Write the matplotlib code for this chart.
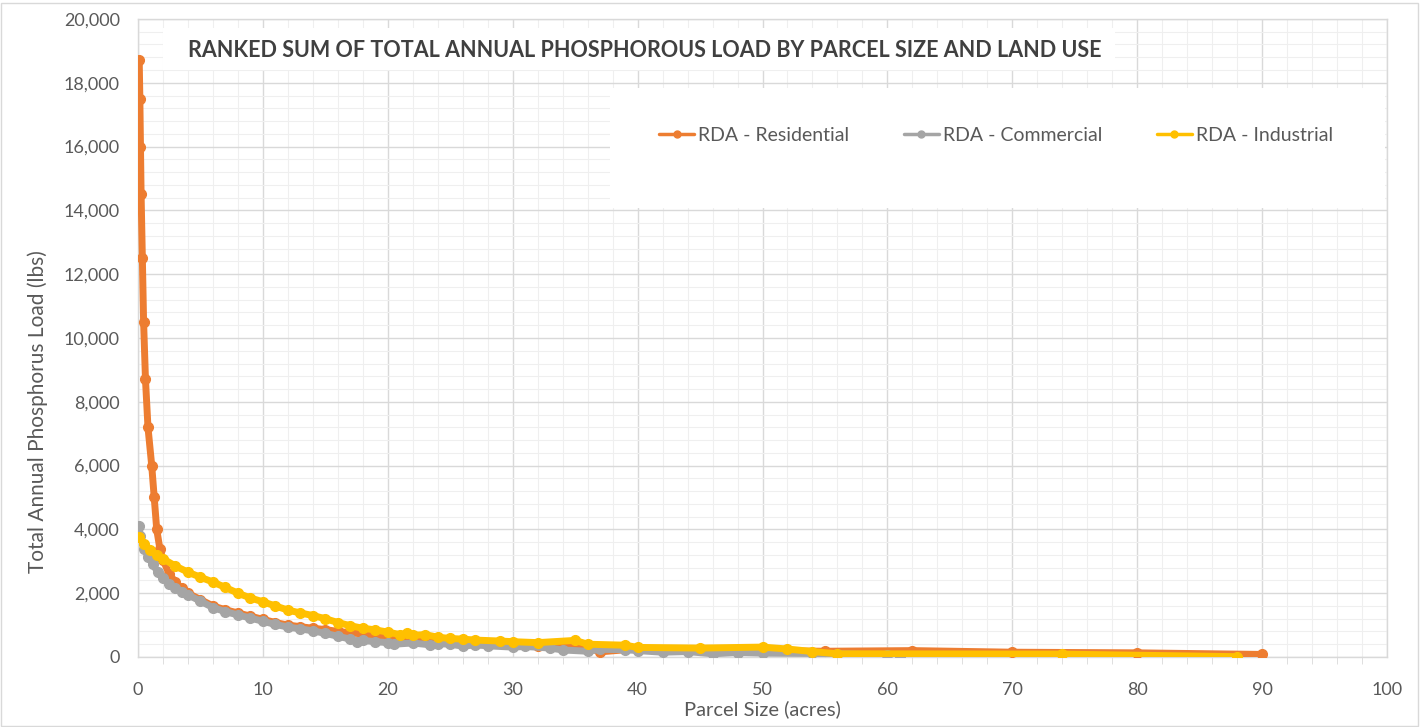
import numpy as np
import matplotlib
matplotlib.use('agg')
import matplotlib.pyplot as plt
from matplotlib.patches import Rectangle
from matplotlib.ticker import MultipleLocator, FuncFormatter

##### Settings
plt.rcParams['font.family'] = ['Lato', 'DejaVu Sans']
txt_col = '#595959'
grid_major = '#d9d9d9'
grid_minor = '#efefef'

##### Data
title = 'RANKED SUM OF TOTAL ANNUAL PHOSPHOROUS LOAD BY PARCEL SIZE AND LAND USE'
series_names = ['RDA - Residential', 'RDA - Commercial', 'RDA - Industrial']
series_colors = ['#ed7d31', '#a5a5a5', '#ffc000']

res_x = [0.1, 0.15, 0.2, 0.25, 0.35, 0.45, 0.6, 0.8, 1.1, 1.3, 1.5, 1.75, 2.0, 2.5, 3.0, 3.5,
         4.0, 5, 6, 7, 8, 9, 10, 11, 12, 13, 14, 15, 16, 17, 18, 19, 20, 21, 22, 23, 24,
         25, 26, 28, 30, 32, 34, 36, 37, 40, 45, 50, 55, 62, 70, 80, 90]
res_y = [18700, 17500, 16000, 14500, 12500, 10500, 8700, 7200, 6000, 5000, 4000, 3400, 3050,
         2600, 2350, 2150, 2000, 1800, 1600, 1480, 1380, 1280, 1180, 1080, 1000, 950, 900,
         860, 800, 760, 720, 680, 640, 600, 560, 520, 500, 470, 450, 420, 380, 350, 320, 290,
         160, 260, 220, 200, 180, 200, 150, 130, 80]

com_x = [0.05, 0.2, 0.5, 0.8, 1.2, 1.6, 2.0, 2.5, 3.0, 3.5, 4.0, 5, 6, 7, 8, 9, 10, 11, 12,
         13, 14, 15, 16, 17, 17.5, 18, 19, 20, 20.5, 22, 23.4, 24, 25, 26, 27, 28, 30, 31,
         33, 34, 36, 37, 39, 40, 42, 44, 46, 48, 50, 54, 56, 60, 61]
com_y = [4100, 3800, 3400, 3150, 2900, 2650, 2480, 2300, 2150, 2050, 1950, 1750, 1550, 1420,
         1320, 1220, 1120, 1020, 940, 880, 820, 740, 650, 560, 480, 520, 480, 450, 400, 440,
         380, 420, 400, 340, 380, 350, 310, 330, 280, 220, 180, 240, 230, 200, 150, 170, 100,
         140, 120, 110, 100, 60, 20]

ind_x = [0.05, 0.5, 1, 1.5, 2, 3, 4, 5, 6, 7, 8, 9, 10, 11, 12, 13, 14, 15, 16, 17, 18, 19,
         20, 21, 21.5, 22, 23, 24, 25, 26, 27, 29, 30, 32, 35, 36, 39, 40, 45, 50, 52, 54,
         56, 74, 88]
ind_y = [3750, 3550, 3350, 3200, 3080, 2850, 2660, 2500, 2350, 2180, 2000, 1850, 1730, 1600,
         1470, 1380, 1300, 1200, 1080, 980, 900, 850, 780, 700, 740, 680, 700, 620, 580, 560,
         530, 500, 480, 450, 520, 400, 370, 300, 280, 310, 250, 170, 100, 90, 10]

xs = [res_x, com_x, ind_x]
ys = [res_y, com_y, ind_y]

##### Plotting
fig = plt.figure(figsize=(14.21, 7.27), dpi=100)
ax = fig.add_axes([0.0971, 0.0963, 0.8790, 0.8776])

for i in range(3):
    ax.plot(xs[i], ys[i], color=series_colors[i], lw=5, marker='o', ms=7,
            solid_joinstyle='round', solid_capstyle='round', label=series_names[i], zorder=4 + i)

ax.set_xlim(0, 100)
ax.set_ylim(0, 20000)
ax.xaxis.set_major_locator(MultipleLocator(10))
ax.xaxis.set_minor_locator(MultipleLocator(2))
ax.yaxis.set_major_locator(MultipleLocator(2000))
ax.yaxis.set_minor_locator(MultipleLocator(400))
ax.yaxis.set_major_formatter(FuncFormatter(lambda v, p: '{:,.0f}'.format(v)))
ax.grid(which='major', color=grid_major, lw=1.0, zorder=0)
ax.grid(which='minor', color=grid_minor, lw=0.8, zorder=0)
ax.set_axisbelow(True)
for s in ax.spines.values():
    s.set_color(grid_major)
    s.set_linewidth(1.0)
ax.tick_params(axis='both', which='major', length=0, labelsize=13, labelcolor=txt_col)
ax.tick_params(axis='x', which='major', pad=18)
ax.tick_params(axis='y', which='major', pad=13)
ax.tick_params(axis='x', which='minor', length=5, color=grid_major)
ax.tick_params(axis='y', which='minor', length=0)

ax.set_xlabel('Parcel Size (acres)', fontsize=14.5, color=txt_col)
ax.set_ylabel('Total Annual Phosphorus Load (lbs)', fontsize=15, color=txt_col)
ax.xaxis.set_label_coords(0.5, -0.068)
ax.yaxis.set_label_coords(-0.072, 0.384)

# white boxes behind title and legend (hide the grid there)
ax.add_patch(Rectangle((0.020, 0.920), 0.762, 0.066, transform=ax.transAxes,
                       facecolor='white', edgecolor='none', zorder=1))
ax.add_patch(Rectangle((0.378, 0.704), 0.620, 0.188, transform=ax.transAxes,
                       facecolor='white', edgecolor='none', zorder=1))

ax.text(0.040, 0.951, title, transform=ax.transAxes, fontsize=15.5, fontweight='bold',
        color='#404040', ha='left', va='center', zorder=8)

leg = ax.legend(loc='center', bbox_to_anchor=(0.687, 0.817), ncol=3, frameon=False,
                fontsize=14, handlelength=1.8, handletextpad=0.2, columnspacing=2.8,
                numpoints=1)
for t in leg.get_texts():
    t.set_color(txt_col)
for ln in leg.get_lines():
    ln.set_linewidth(2.5)
    ln.set_markersize(5)
leg.set_zorder(9)

# light chart-area border
fig.add_artist(Rectangle((0.001, 0.002), 0.997, 0.994, transform=fig.transFigure,
                         facecolor='none', edgecolor='#d9d9d9', lw=1.0))

plt.savefig('out.png', dpi=100)
